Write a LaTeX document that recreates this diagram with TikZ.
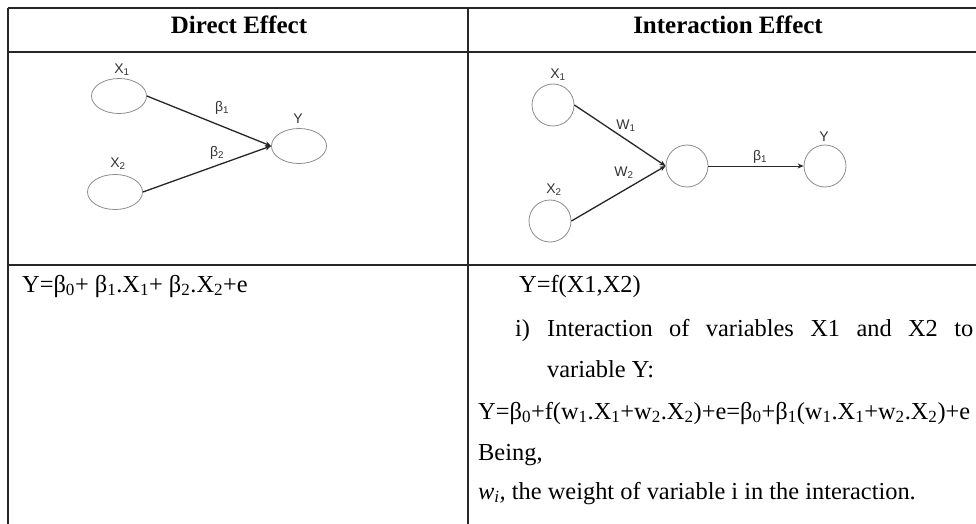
\documentclass[tikz,border=0pt]{standalone}
\usepackage{fontspec}
\setmainfont{Liberation Serif}
\newfontfamily\lblfont{Liberation Sans}
\usetikzlibrary{shapes.geometric,arrows.meta}
\newcommand{\sbs}[1]{\textsubscript{#1}}
\begin{document}
\begin{tikzpicture}[x=1pt,y=-1pt,
 grid/.style={line width=1.3pt, draw=black!85},
 ell/.style={ellipse, draw=black!45, line width=0.8pt, minimum width=55pt, minimum height=35pt, inner sep=0pt},
 circ/.style={circle, draw=black!45, line width=0.8pt, minimum size=42pt, inner sep=0pt},
 lbl/.style={font=\lblfont\fontsize{14}{16}\selectfont, text=black!80, inner sep=0pt},
 arr/.style={-{Stealth[length=6pt,width=5pt]}, line width=1.3pt, draw=black!85},
 hd/.style={font=\fontsize{25}{30}\selectfont\bfseries, anchor=base, inner sep=0pt},
 body/.style={font=\fontsize{24.4}{28}\selectfont, anchor=base west, inner sep=0pt}]
\useasboundingbox (0,0) rectangle (976,524);
% table grid
\draw[grid] (8,8) -- (976,8);
\draw[grid] (8,52) -- (976,52);
\draw[grid] (8,265) -- (976,265);
\draw[grid] (8,8) -- (8,524);
\draw[grid] (468,8) -- (468,524);
% headers
\node[hd] (h1) at (239,34) {Direct Effect};
\node[hd] (h2) at (728,34) {Interaction Effect};
% left diagram
\node[ell] (lx1) at (119,96) {};
\node[ell] (lx2) at (115,192) {};
\node[ell] (ly) at (299,146) {};
\node[lbl] (llx1) at (122,70) {X\sbs{1}};
\node[lbl] (llx2) at (118,164) {X\sbs{2}};
\node[lbl] (lly) at (298,119) {Y};
\node[lbl] (lb1) at (222,108) {β\sbs{1}};
\node[lbl] (lb2) at (217,153) {β\sbs{2}};
\draw[arr] (lx1.east) -- (ly.west);
\draw[arr] (lx2.east) -- (ly.west);
% right diagram
\node[circ] (rx1) at (553,105) {};
\node[circ] (rx2) at (550,221) {};
\node[circ] (rm) at (687,166) {};
\node[circ] (ry) at (825,166) {};
\node[lbl] (lrx1) at (558,75) {X\sbs{1}};
\node[lbl] (lrx2) at (554,190) {X\sbs{2}};
\node[lbl] (lw1) at (626,126) {W\sbs{1}};
\node[lbl] (lw2) at (624,173) {W\sbs{2}};
\node[lbl] (lrb1) at (760,157) {β\sbs{1}};
\node[lbl] (lry) at (824,137) {Y};
\draw[arr] (rx1.east) -- (rm.west);
\draw[arr] (rx2.east) -- (rm.west);
\draw[arr, line width=1pt] (rm.east) -- (ry.west);
% body texts
\node[body] (eqd) at (22,292) {Y=β\sbs{0}+ β\sbs{1}.X\sbs{1}+ β\sbs{2}.X\sbs{2}+e};
\node[body] (r1) at (519,292) {Y=f(X1,X2)};
\node[body] (r2a) at (515,336) {i)};
\node[body] (r2) at (547,336) {\makebox[426pt][s]{Interaction of variables X1 and X2 to}};
\node[body] (r3) at (547,377) {variable Y:};
\node[body] (r4) at (478,419) {Y=β\sbs{0}+f(w\sbs{1}.X\sbs{1}+w\sbs{2}.X\sbs{2})+e=β\sbs{0}+β\sbs{1}(w\sbs{1}.X\sbs{1}+w\sbs{2}.X\sbs{2})+e};
\node[body] (r5) at (478,460) {Being,};
\node[body] (r6) at (478,499) {\textit{w\textsubscript{i},} the weight of variable i in the interaction.};
\end{tikzpicture}
\end{document}
